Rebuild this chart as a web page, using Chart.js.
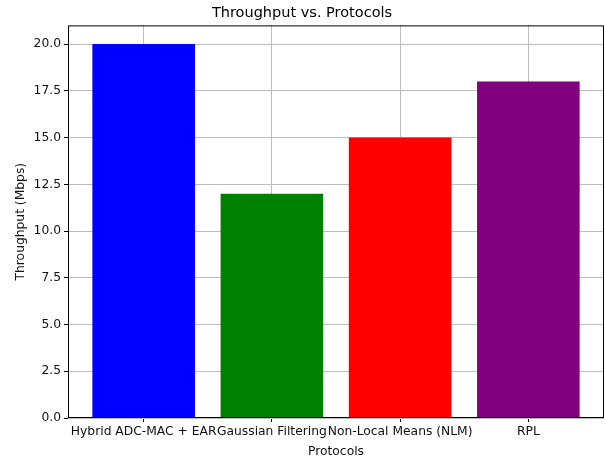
<!DOCTYPE html>
<html>
<head>
<meta charset="utf-8">
<script src="https://cdn.jsdelivr.net/npm/chart.js@4.4.1/dist/chart.umd.min.js"></script>
<style>
  html, body { margin: 0; padding: 0; background: #fff; }
  #wrap { width: 605px; height: 459px; }
</style>
</head>
<body>
<div id="wrap"><canvas id="grafico" width="605" height="459"></canvas></div>
<script>
// dados do grafico
var protocolos = ["Hybrid ADC-MAC + EAR", "Gaussian Filtering", "Non-Local Means (NLM)", "RPL"];
var throughput = [20, 12, 15, 18];
var cores = ["#0000ff", "#008000", "#ff0000", "#800080"];
var ticksY = [0, 2.5, 5, 7.5, 10, 12.5, 15, 17.5, 20];

var fonte = "'DejaVu Sans', sans-serif";

function montarPontos() {
    var pontos = [];
    var indice = 0;
    while (indice < throughput.length) {
        pontos.push({ x: indice, y: throughput[indice] });
        indice++;
    }
    return pontos;
}

// moldura preta em volta da area do grafico (estilo matplotlib)
var moldura = {
    id: "moldura",
    afterDraw: function (chart) {
        var a = chart.chartArea;
        var ctx = chart.ctx;
        ctx.save();
        ctx.strokeStyle = "#000";
        ctx.lineWidth = 1;
        ctx.strokeRect(a.left + 0.5, a.top + 0.5, a.right - a.left - 1, a.bottom - a.top - 1);
        ctx.restore();
    }
};

var ctx = document.getElementById("grafico").getContext("2d");
var grafico = new Chart(ctx, {
    type: "bar",
    data: {
        datasets: [{
            label: "Throughput",
            data: montarPontos(),
            backgroundColor: cores,
            borderWidth: 0,
            categoryPercentage: 1,
            barPercentage: 0.8
        }]
    },
    options: {
        responsive: false,
        animation: false,
        layout: { padding: { left: 0, right: 1, top: 0, bottom: 0 } },
        plugins: {
            legend: { display: false },
            tooltip: { enabled: false },
            title: {
                display: true,
                text: "Throughput vs. Protocols",
                color: "#000",
                font: { family: fonte, size: 14.5, weight: "normal" },
                padding: { top: 5, bottom: 3 }
            }
        },
        scales: {
            x: {
                type: "linear",
                min: -0.59,
                max: 3.59,
                offset: false,
                z: 1,
                afterBuildTicks: function (scale) {
                    scale.ticks = protocolos.map(function (p, i) { return { value: i }; });
                },
                afterFit: function (scale) { scale.height = 41; },
                ticks: {
                    autoSkip: false,
                    maxRotation: 0,
                    color: "#111",
                    padding: 2,
                    font: { family: fonte, size: 12.3 },
                    callback: function (v) { return protocolos[v]; }
                },
                grid: { offset: false, color: "#bdbdbd", lineWidth: 1, tickLength: 4, tickColor: "#000" },
                border: { display: false },
                title: {
                    display: true,
                    text: "Protocols",
                    color: "#111",
                    font: { family: fonte, size: 12.3 },
                    padding: { top: 0, bottom: 0 }
                }
            },
            y: {
                min: 0,
                max: 21,
                z: 1,
                afterBuildTicks: function (scale) {
                    scale.ticks = ticksY.map(function (v) { return { value: v }; });
                },
                afterFit: function (scale) { scale.width = 68; },
                ticks: {
                    color: "#111",
                    padding: 3,
                    font: { family: fonte, size: 12.3 },
                    callback: function (v) { return v.toFixed(1); }
                },
                grid: { color: "#bdbdbd", lineWidth: 1, tickLength: 4, tickColor: "#000" },
                border: { display: false },
                title: {
                    display: true,
                    text: "Throughput (Mbps)",
                    color: "#111",
                    font: { family: fonte, size: 12.3 },
                    padding: { top: 13, bottom: 4 }
                }
            }
        }
    },
    plugins: [moldura]
});
</script>
</body>
</html>
